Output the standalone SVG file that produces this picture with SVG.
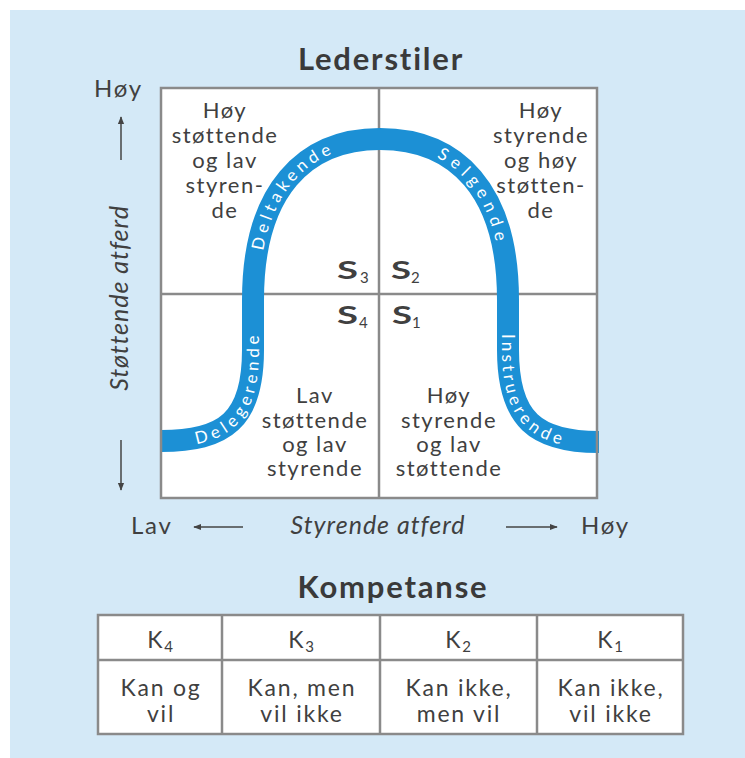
<svg xmlns="http://www.w3.org/2000/svg" width="745" height="758" viewBox="0 0 745 758">
<defs>
<style>
.t{font-family:Lato,"Open Sans","Liberation Sans",sans-serif;fill:#404040;}
.q{font-size:22px;letter-spacing:1.5px;text-anchor:middle;}
.h{font-size:31px;font-weight:bold;letter-spacing:1.8px;text-anchor:middle;fill:#3a3a3a;}
.ax{font-size:24px;letter-spacing:1.8px;}
.it{font-style:italic;font-size:25px;letter-spacing:1px;text-anchor:middle;}
.s{font-size:25px;font-weight:bold;}
.sub{font-size:15px;}
.k{font-size:23px;letter-spacing:1.8px;text-anchor:middle;}
.border{fill:none;stroke:#8a8a8a;stroke-width:2.5;}
.line{stroke:#8a8a8a;stroke-width:2.5;}
.arr{stroke:#444;stroke-width:1.5;fill:none;}
.band{fill:none;stroke:#1c90d5;stroke-width:22;}
.bl{font-family:Lato,"Open Sans","Liberation Sans",sans-serif;fill:#fff;font-size:17px;}
</style>
<marker id="ah" viewBox="0 0 10 10" refX="9" refY="5" markerWidth="8" markerHeight="8" markerUnits="userSpaceOnUse" orient="auto">
<path d="M0,1 L10,5 L0,9 z" fill="#444"/>
</marker>
<path id="curve" d="M161,441 C225,441 253,420 253,350 L253,300 C253,190 305,139 380,139 C456,139 508,190 508,300 L508,350 C508,420 536,442 599,442"/>
</defs>
<rect x="10" y="10" width="735" height="748" fill="#d4e9f7"/>
<text class="t h" x="381" y="70">Lederstiler</text>

<g id="axes">
<text class="t ax" x="94" y="97">Høy</text>
<text class="t it" transform="translate(128,298) rotate(-90)" font-size="26">Støttende atferd</text>
<text class="t ax" x="131" y="534">Lav</text>
<text class="t it" x="378" y="534">Styrende atferd</text>
<text class="t ax" x="581" y="534">Høy</text>
</g>

<g id="connectors">
<line class="arr" x1="121" y1="160" x2="121" y2="117" marker-end="url(#ah)"/>
<line class="arr" x1="121" y1="440" x2="121" y2="490" marker-end="url(#ah)"/>
<line class="arr" x1="243" y1="527" x2="194" y2="527" marker-end="url(#ah)"/>
<line class="arr" x1="506" y1="527" x2="557" y2="527" marker-end="url(#ah)"/>
</g>

<g id="grid">
<rect x="161" y="88" width="436" height="410" fill="#fff"/>
<line class="line" x1="379" y1="88" x2="379" y2="498"/>
<line class="line" x1="161" y1="294" x2="597" y2="294"/>
</g>

<g id="curve-band">
<use href="#curve" class="band"/>
<text class="bl" dy="6"><textPath href="#curve" startOffset="100" text-anchor="middle" textLength="132" lengthAdjust="spacing">Delegerende</textPath></text>
<text class="bl" dy="6"><textPath href="#curve" startOffset="317" text-anchor="middle" textLength="130" lengthAdjust="spacing">Deltakende</textPath></text>
<text class="bl" dy="6"><textPath href="#curve" startOffset="551" text-anchor="middle" textLength="112" lengthAdjust="spacing">Selgende</textPath></text>
<text class="bl" dy="6"><textPath href="#curve" startOffset="766" text-anchor="middle" textLength="130" lengthAdjust="spacing">Instruerende</textPath></text>
</g>
<rect class="border" x="161" y="88" width="436" height="410"/>

<g id="q-s3">
<text class="t q"><tspan x="225" y="118">Høy</tspan><tspan x="225" y="143">støttende</tspan><tspan x="225" y="168">og lav</tspan><tspan x="225" y="193">styren-</tspan><tspan x="225" y="218">de</tspan></text>
<text class="t s" x="337" y="279" textLength="21" lengthAdjust="spacingAndGlyphs">S</text>
<text class="t sub" x="360" y="283">3</text>
</g>
<g id="q-s2">
<text class="t q"><tspan x="541" y="118">Høy</tspan><tspan x="541" y="143">styrende</tspan><tspan x="541" y="168">og høy</tspan><tspan x="541" y="193">støtten-</tspan><tspan x="541" y="218">de</tspan></text>
<text class="t s" x="391" y="279" textLength="20" lengthAdjust="spacingAndGlyphs">S</text>
<text class="t sub" x="411" y="283">2</text>
</g>
<g id="q-s4">
<text class="t q"><tspan x="315" y="403">Lav</tspan><tspan x="315" y="428">støttende</tspan><tspan x="315" y="452">og lav</tspan><tspan x="315" y="476">styrende</tspan></text>
<text class="t s" x="337" y="324" textLength="21" lengthAdjust="spacingAndGlyphs">S</text>
<text class="t sub" x="359" y="328">4</text>
</g>
<g id="q-s1">
<text class="t q"><tspan x="449" y="403">Høy</tspan><tspan x="449" y="428">styrende</tspan><tspan x="449" y="452">og lav</tspan><tspan x="449" y="476">støttende</tspan></text>
<text class="t s" x="392" y="324" textLength="20" lengthAdjust="spacingAndGlyphs">S</text>
<text class="t sub" x="412" y="328">1</text>
</g>

<text class="t h" x="393" y="598">Kompetanse</text>

<g id="table">
<rect x="98" y="615" width="585" height="119" fill="#fff"/>
<line class="line" x1="98" y1="660" x2="683" y2="660"/>
<line class="line" x1="222" y1="615" x2="222" y2="734"/>
<line class="line" x1="380" y1="615" x2="380" y2="734"/>
<line class="line" x1="537" y1="615" x2="537" y2="734"/>
<rect class="border" x="98" y="615" width="585" height="119"/>
</g>
<g id="k4">
<text class="t k" x="161" y="648">K<tspan font-size="15" dy="4">4</tspan></text>
<text class="t k"><tspan x="161" y="696">Kan og</tspan><tspan x="161" y="722">vil</tspan></text>
</g>
<g id="k3">
<text class="t k" x="302" y="648">K<tspan font-size="15" dy="4">3</tspan></text>
<text class="t k"><tspan x="302" y="696">Kan, men</tspan><tspan x="302" y="722">vil ikke</tspan></text>
</g>
<g id="k2">
<text class="t k" x="459" y="648">K<tspan font-size="15" dy="4">2</tspan></text>
<text class="t k"><tspan x="459" y="696">Kan ikke,</tspan><tspan x="459" y="722">men vil</tspan></text>
</g>
<g id="k1">
<text class="t k" x="611" y="648">K<tspan font-size="15" dy="4">1</tspan></text>
<text class="t k"><tspan x="611" y="696">Kan ikke,</tspan><tspan x="611" y="722">vil ikke</tspan></text>
</g>
</svg>
